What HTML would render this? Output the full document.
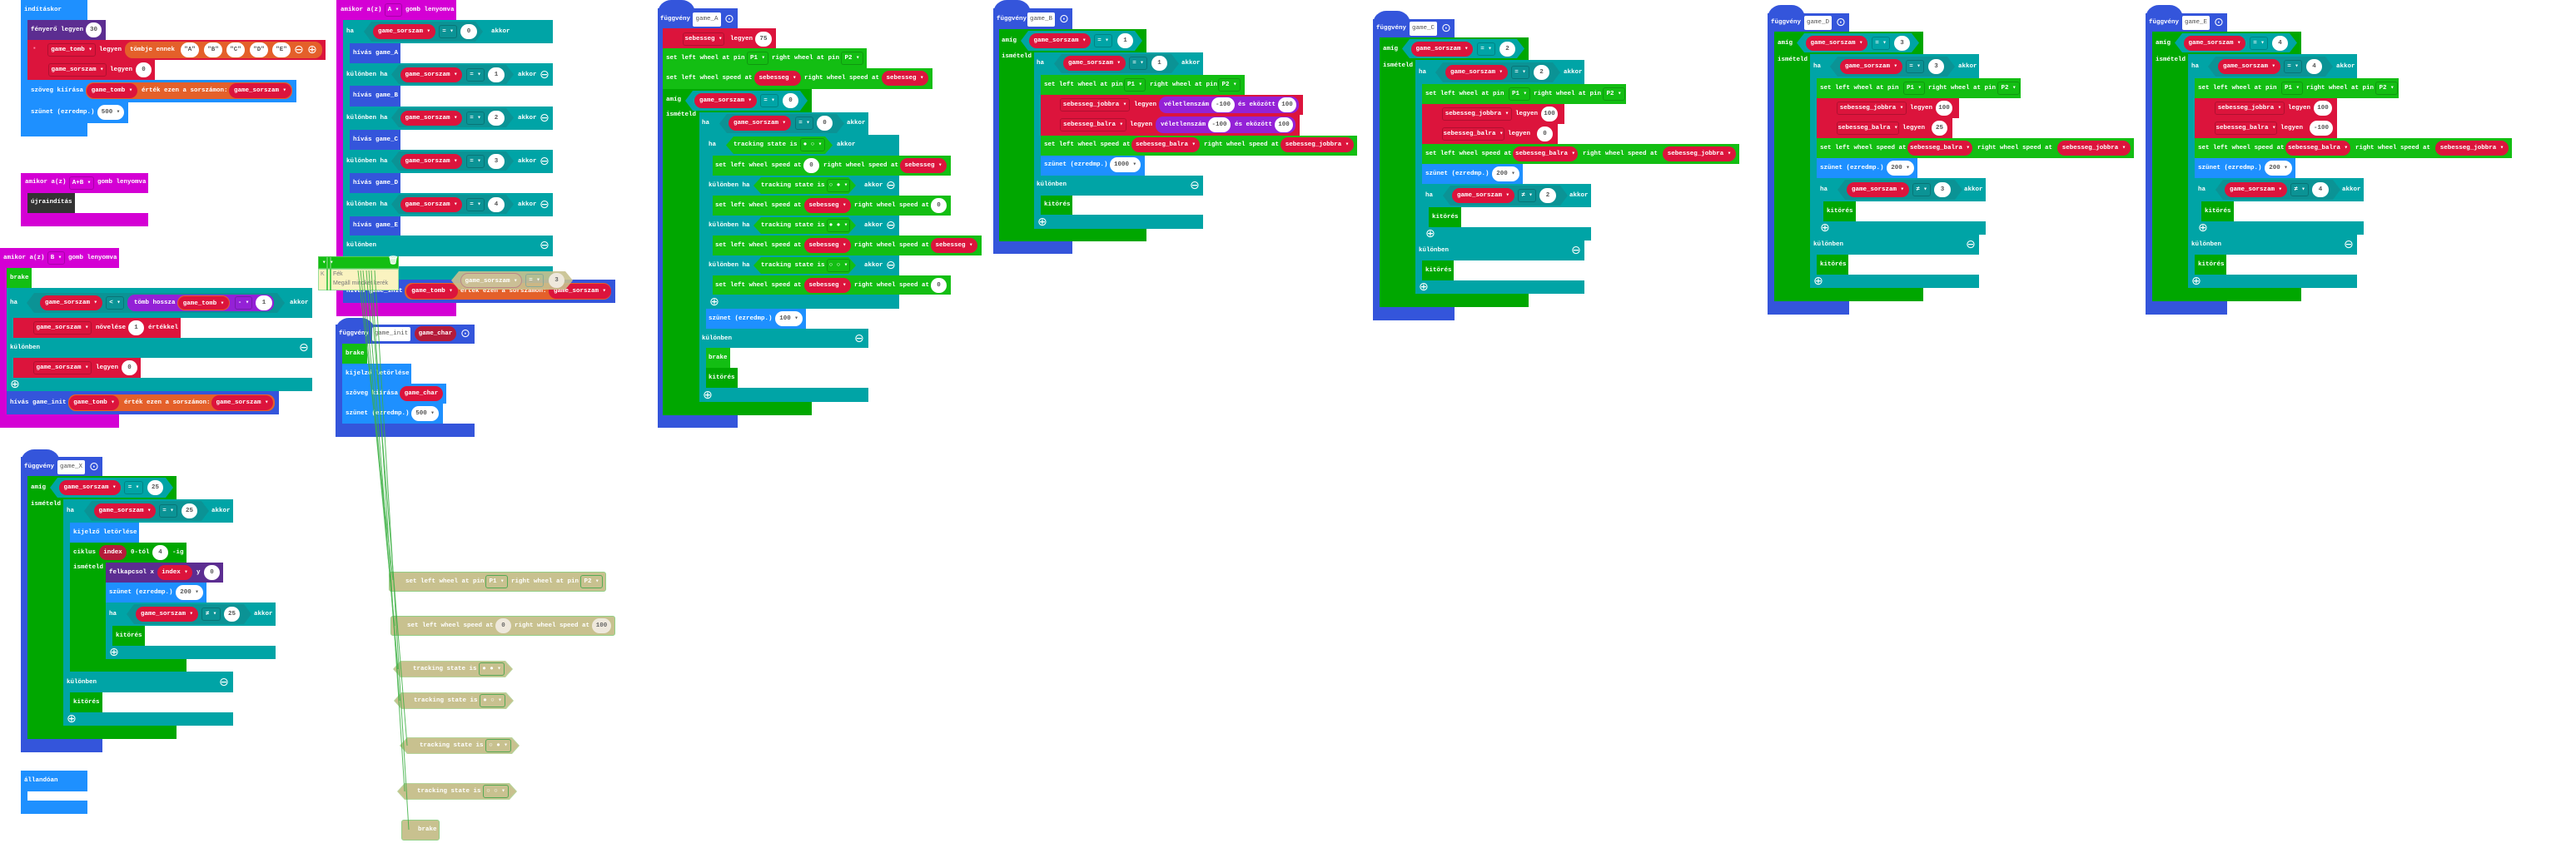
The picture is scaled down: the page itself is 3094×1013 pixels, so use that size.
<!DOCTYPE html>
<html><head><meta charset="utf-8"><style>
body{margin:0;width:3094px;height:1013px;background:#fff;position:relative;overflow:hidden}
i,b,div,svg{position:absolute;box-sizing:border-box;display:block}
i{font-style:normal}
.t{font:bold 7.5px/10px "Liberation Mono",monospace;color:#fff;white-space:pre}
.p{height:18px;border-radius:9px;font:bold 7.5px/18px "Liberation Mono",monospace;color:#fff;text-align:center;white-space:pre}
.d{height:16px;border:1px solid rgba(0,0,0,.2);border-radius:3px;font:bold 7.5px/14px "Liberation Mono",monospace;color:#fff;text-align:center;white-space:pre}
.c{font:14px/14px "DejaVu Sans",sans-serif;color:#fff}
.bx{height:17px;background:#fff;color:#555;font:7.5px/17px "Liberation Mono",monospace;text-align:center;border-radius:2px}
.h{height:24px;clip-path:polygon(9px 0,calc(100% - 9px) 0,100% 50%,calc(100% - 9px) 100%,9px 100%,0 50%)}
.hump{height:16px;border-radius:22px 22px 0 0}
.B{background:#1E90FF}.P{background:#5C2D91}.R{background:#DC143C}.O{background:#E4602A}
.T{background:#00A4A6}.M{background:#D400D4}.F{background:#3455DB}.G{background:#00A700}
.L{background:#13BE13}.V{background:#9421D6}.K{background:#333}.W{background:#fff;color:#555}
.DT{background:#0b9395}.DR{background:#B51B3A}
.gh{background:#C8C18F;border:1px solid #93cf86}
</style></head><body>

<!-- indításkor -->
<i class="B" style="left:25px;top:0;width:80px;height:164px"></i>
<b class="t" style="left:29px;top:7px">indításkor</b>
<i class="P" style="left:33px;top:24px;width:94px;height:24px"></i>
<b class="t" style="left:37px;top:31px">fényerő legyen</b>
<b class="p W" style="left:103px;top:27px;width:19px">30</b>
<i class="R" style="left:33px;top:48px;width:358px;height:24px"></i>
<b class="t" style="left:39px;top:54px;color:#f8a">▪</b>
<b class="d" style="left:57px;top:52px;width:58px">game_tomb ▾</b>
<b class="t" style="left:119px;top:55px">legyen</b>
<b class="p O" style="left:150px;top:50px;width:237px;height:20px"></b>
<b class="t" style="left:156px;top:55px">tömbje ennek</b>
<b class="p W" style="left:217px;top:51px;width:22px">"A"</b>
<b class="p W" style="left:245px;top:51px;width:22px">"B"</b>
<b class="p W" style="left:272px;top:51px;width:22px">"C"</b>
<b class="p W" style="left:300px;top:51px;width:22px">"D"</b>
<b class="p W" style="left:327px;top:51px;width:22px">"E"</b>
<b class="c" style="left:353px;top:53px">⊖</b><b class="c" style="left:369px;top:53px">⊕</b>
<i class="R" style="left:33px;top:72px;width:153px;height:24px"></i>
<b class="d" style="left:58px;top:76px;width:70px">game_sorszam ▾</b>
<b class="t" style="left:132px;top:79px">legyen</b>
<b class="p W" style="left:163px;top:75px;width:19px">0</b>
<i class="B" style="left:33px;top:96px;width:323px;height:27px"></i>
<b class="t" style="left:37px;top:104px">szöveg kiírása</b>
<b class="p O" style="left:103px;top:99px;width:248px;height:20px"></b>
<b class="p R" style="left:104px;top:100px;width:61px">game_tomb ▾</b>
<b class="t" style="left:170px;top:104px">érték ezen a sorszámon:</b>
<b class="p R" style="left:275px;top:100px;width:75px">game_sorszam ▾</b>
<i class="B" style="left:33px;top:123px;width:121px;height:25px"></i>
<b class="t" style="left:37px;top:130px">szünet (ezredmp.)</b>
<b class="p W" style="left:117px;top:126px;width:32px">500 ▾</b>

<!-- A+B -->
<i class="M" style="left:25px;top:208px;width:153px;height:24px"></i>
<b class="t" style="left:30px;top:214px">amikor a(z)</b>
<b class="d" style="left:83px;top:212px;width:30px">A+B ▾</b>
<b class="t" style="left:117px;top:214px">gomb lenyomva</b>
<i class="M" style="left:25px;top:232px;width:8px;height:40px"></i>
<i class="K" style="left:33px;top:232px;width:57px;height:24px"></i>
<b class="t" style="left:37px;top:238px">újraindítás</b>
<i class="M" style="left:25px;top:256px;width:153px;height:16px"></i>

<!-- amikor B -->
<i class="M" style="left:0;top:298px;width:143px;height:24px"></i>
<b class="t" style="left:4px;top:305px">amikor a(z)</b>
<b class="d" style="left:57px;top:302px;width:21px">B ▾</b>
<b class="t" style="left:82px;top:305px">gomb lenyomva</b>
<i class="M" style="left:0;top:322px;width:8px;height:192px"></i>
<i class="M" style="left:0;top:498px;width:143px;height:16px"></i>
<i class="L" style="left:8px;top:322px;width:30px;height:24px"></i>
<b class="t" style="left:12px;top:329px">brake</b>
<i class="T" style="left:8px;top:346px;width:367px;height:36px"></i>
<b class="t" style="left:12px;top:359px">ha</b>
<i class="h DT" style="left:32px;top:352px;width:310px"></i>
<b class="p R" style="left:48px;top:355px;width:75px">game_sorszam ▾</b>
<b class="d" style="left:127px;top:356px;width:22px">&lt; ▾</b>
<b class="p V" style="left:153px;top:354px;width:176px;height:20px"></b>
<b class="t" style="left:161px;top:359px">tömb hossza</b>
<b class="p R" style="left:213px;top:355px;width:63px;border:1px solid #E4602A">game_tomb ▾</b>
<b class="d" style="left:282px;top:356px;width:21px">- ▾</b>
<b class="p W" style="left:307px;top:355px;width:20px">1</b>
<b class="t" style="left:348px;top:359px">akkor</b>
<i class="T" style="left:8px;top:382px;width:8px;height:88px"></i>
<i class="R" style="left:16px;top:382px;width:201px;height:24px"></i>
<b class="d" style="left:40px;top:386px;width:70px">game_sorszam ▾</b>
<b class="t" style="left:115px;top:389px">növelése</b>
<b class="p W" style="left:154px;top:385px;width:19px">1</b>
<b class="t" style="left:178px;top:389px">értékkel</b>
<i class="T" style="left:8px;top:406px;width:367px;height:24px"></i>
<b class="t" style="left:12px;top:413px">különben</b>
<b class="c" style="left:359px;top:411px">⊖</b>
<i class="R" style="left:16px;top:430px;width:153px;height:24px"></i>
<b class="d" style="left:40px;top:434px;width:70px">game_sorszam ▾</b>
<b class="t" style="left:115px;top:437px">legyen</b>
<b class="p W" style="left:146px;top:433px;width:19px">0</b>
<i class="T" style="left:8px;top:454px;width:367px;height:16px"></i>
<b class="c" style="left:12px;top:455px">⊕</b>
<i class="F" style="left:8px;top:470px;width:327px;height:28px"></i>
<b class="t" style="left:12px;top:479px">hívás game_init</b>
<b class="p O" style="left:82px;top:474px;width:248px;height:20px"></b>
<b class="p R" style="left:83px;top:475px;width:60px">game_tomb ▾</b>
<b class="t" style="left:149px;top:479px">érték ezen a sorszámon:</b>
<b class="p R" style="left:254px;top:475px;width:74px">game_sorszam ▾</b>

<!-- amikor A -->
<i class="M" style="left:404px;top:0;width:144px;height:24px"></i>
<b class="t" style="left:409px;top:7px">amikor a(z)</b>
<b class="d" style="left:462px;top:4px;width:21px">A ▾</b>
<b class="t" style="left:487px;top:7px">gomb lenyomva</b>
<i class="M" style="left:404px;top:24px;width:8px;height:356px"></i>
<i class="M" style="left:404px;top:364px;width:144px;height:16px"></i>
<i class="T" style="left:412px;top:24px;width:8px;height:312px"></i>
<i class="T" style="left:412px;top:24px;width:252px;height:28px"></i>
<b class="t" style="left:416px;top:33px">ha</b>
<i class="h DT" style="left:437px;top:26px;width:143px"></i>
<b class="p R" style="left:448px;top:29px;width:75px">game_sorszam ▾</b>
<b class="d" style="left:527px;top:30px;width:22px">= ▾</b>
<b class="p W" style="left:553px;top:29px;width:20px">0</b>
<b class="t" style="left:590px;top:33px">akkor</b>
<i class="F" style="left:420px;top:52px;width:61px;height:24px"></i><b class="t" style="left:424px;top:59px">hívás game_A</b>

<i class="T" style="left:412px;top:76px;width:252px;height:27px"></i>
<b class="t" style="left:416px;top:85px">különben ha</b>
<i class="h DT" style="left:470px;top:78px;width:147px;height:23px"></i>
<b class="p R" style="left:481px;top:81px;width:74px">game_sorszam ▾</b>
<b class="d" style="left:560px;top:82px;width:22px">= ▾</b>
<b class="p W" style="left:586px;top:81px;width:20px">1</b>
<b class="t" style="left:622px;top:85px">akkor</b><b class="c" style="left:648px;top:83px">⊖</b>
<i class="F" style="left:420px;top:103px;width:61px;height:25px"></i><b class="t" style="left:424px;top:110px">hívás game_B</b>

<i class="T" style="left:412px;top:128px;width:252px;height:28px"></i>
<b class="t" style="left:416px;top:137px">különben ha</b>
<i class="h DT" style="left:470px;top:130px;width:147px;height:23px"></i>
<b class="p R" style="left:481px;top:133px;width:74px">game_sorszam ▾</b>
<b class="d" style="left:560px;top:134px;width:22px">= ▾</b>
<b class="p W" style="left:586px;top:133px;width:20px">2</b>
<b class="t" style="left:622px;top:137px">akkor</b><b class="c" style="left:648px;top:135px">⊖</b>
<i class="F" style="left:420px;top:156px;width:61px;height:24px"></i><b class="t" style="left:424px;top:163px">hívás game_C</b>

<i class="T" style="left:412px;top:180px;width:252px;height:28px"></i>
<b class="t" style="left:416px;top:189px">különben ha</b>
<i class="h DT" style="left:470px;top:182px;width:147px;height:23px"></i>
<b class="p R" style="left:481px;top:185px;width:74px">game_sorszam ▾</b>
<b class="d" style="left:560px;top:186px;width:22px">= ▾</b>
<b class="p W" style="left:586px;top:185px;width:20px">3</b>
<b class="t" style="left:622px;top:189px">akkor</b><b class="c" style="left:648px;top:187px">⊖</b>
<i class="F" style="left:420px;top:208px;width:61px;height:24px"></i><b class="t" style="left:424px;top:215px">hívás game_D</b>

<i class="T" style="left:412px;top:232px;width:252px;height:28px"></i>
<b class="t" style="left:416px;top:241px">különben ha</b>
<i class="h DT" style="left:470px;top:234px;width:147px;height:23px"></i>
<b class="p R" style="left:481px;top:237px;width:74px">game_sorszam ▾</b>
<b class="d" style="left:560px;top:238px;width:22px">= ▾</b>
<b class="p W" style="left:586px;top:237px;width:20px">4</b>
<b class="t" style="left:622px;top:241px">akkor</b><b class="c" style="left:648px;top:239px">⊖</b>
<i class="F" style="left:420px;top:260px;width:61px;height:23px"></i><b class="t" style="left:424px;top:266px">hívás game_E</b>

<i class="T" style="left:412px;top:283px;width:252px;height:25px"></i>
<b class="t" style="left:416px;top:290px">különben</b><b class="c" style="left:648px;top:288px">⊖</b>
<i class="T" style="left:412px;top:320px;width:252px;height:16px"></i>
<i class="F" style="left:412px;top:336px;width:327px;height:28px"></i>
<b class="t" style="left:416px;top:345px">hívás game_init</b>
<b class="p O" style="left:486px;top:340px;width:248px;height:20px"></b>
<b class="p R" style="left:488px;top:341px;width:62px">game_tomb ▾</b>
<b class="t" style="left:553px;top:345px">érték ezen a sorszámon:</b>
<b class="p R" style="left:659px;top:341px;width:75px">game_sorszam ▾</b>
<!-- ghost hex -->
<i class="h" style="left:542px;top:326px;width:146px;height:22px;background:rgba(200,193,143,.9)"></i>
<b class="p" style="left:553px;top:328px;width:74px;background:#cbbf95;border:1px solid #b88">game_sorszam ▾</b>
<b class="d" style="left:631px;top:329px;width:22px;border-color:#8a9">= ▾</b>
<b class="p" style="left:659px;top:328px;width:19px;background:#eee8dc;color:#666">3</b>
<!-- tooltip -->
<i style="left:382px;top:308px;width:97px;height:15px;background:#13BE13;border:1px solid #5c5"></i>
<i style="left:382px;top:323px;width:97px;height:26px;background:#FAF3C0;border:1px solid #9d9"></i>
<i style="left:392px;top:308px;width:2px;height:41px;background:#5c5"></i>
<i style="left:396px;top:308px;width:2px;height:41px;background:#5c5"></i>
<b class="t" style="left:387px;top:311px">▾ ▾</b>
<b class="t" style="left:466px;top:310px;font-size:10px">🗑</b>
<b style="left:385px;top:326px;font:7px/8px 'Liberation Sans',sans-serif;color:#888">K</b>
<b style="left:400px;top:326px;font:7px/8px 'Liberation Sans',sans-serif;color:#777">Fék</b>
<b style="left:400px;top:337px;font:7px/8px 'Liberation Sans',sans-serif;color:#777;white-space:pre">Megáll mindkét kerék</b>

<!-- game_init -->
<i class="F hump" style="left:403px;top:382px;width:47px"></i>
<i class="F" style="left:403px;top:390px;width:167px;height:23px"></i>
<b class="t" style="left:407px;top:396px">függvény</b>
<b class="bx" style="left:447px;top:393px;width:46px">game_init</b>
<b class="p DR" style="left:498px;top:392px;width:50px">game_char</b>
<b class="c" style="left:553px;top:394px">⊙</b>
<i class="F" style="left:403px;top:413px;width:8px;height:112px"></i>
<i class="F" style="left:403px;top:509px;width:167px;height:16px"></i>
<i class="L" style="left:411px;top:413px;width:30px;height:24px"></i><b class="t" style="left:415px;top:420px">brake</b>
<i class="B" style="left:411px;top:437px;width:83px;height:24px"></i><b class="t" style="left:415px;top:444px">kijelző letörlése</b>
<i class="B" style="left:411px;top:461px;width:125px;height:24px"></i><b class="t" style="left:415px;top:468px">szöveg kiírása</b>
<b class="p R" style="left:480px;top:464px;width:52px">game_char</b>
<i class="B" style="left:411px;top:485px;width:121px;height:24px"></i><b class="t" style="left:415px;top:492px">szünet (ezredmp.)</b>
<b class="p W" style="left:494px;top:488px;width:33px">500 ▾</b>

<!-- ghosts -->
<i class="gh" style="left:467px;top:687px;width:261px;height:24px;border-radius:3px"></i>
<b class="t" style="left:487px;top:694px">set left wheel at pin</b>
<b class="d" style="left:583px;top:691px;width:27px;border-color:#5a5">P1 ▾</b>
<b class="t" style="left:614px;top:694px">right wheel at pin</b>
<b class="d" style="left:697px;top:691px;width:27px;border-color:#5a5">P2 ▾</b>
<i class="gh" style="left:469px;top:740px;width:270px;height:24px;border-radius:3px"></i>
<b class="t" style="left:489px;top:747px">set left wheel speed at</b>
<b class="p" style="left:595px;top:743px;width:19px;background:#eee8dc;color:#666">0</b>
<b class="t" style="left:618px;top:747px">right wheel speed at</b>
<b class="p" style="left:711px;top:743px;width:23px;background:#eee8dc;color:#666">100</b>
<i class="h" style="left:472px;top:794px;width:144px;height:20px;background:#b7d49a"></i><i class="h" style="left:473px;top:795px;width:142px;height:18px;background:#C8C18F"></i>
<b class="t" style="left:496px;top:799px">tracking state is</b><b class="d" style="left:575px;top:796px;width:31px;border-color:#5a5">● ● ▾</b>
<i class="h" style="left:473px;top:832px;width:144px;height:20px;background:#b7d49a"></i><i class="h" style="left:474px;top:833px;width:142px;height:18px;background:#C8C18F"></i>
<b class="t" style="left:497px;top:837px">tracking state is</b><b class="d" style="left:576px;top:834px;width:31px;border-color:#5a5">● ○ ▾</b>
<i class="h" style="left:480px;top:886px;width:144px;height:20px;background:#b7d49a"></i><i class="h" style="left:481px;top:887px;width:142px;height:18px;background:#C8C18F"></i>
<b class="t" style="left:504px;top:891px">tracking state is</b><b class="d" style="left:583px;top:888px;width:31px;border-color:#5a5">○ ● ▾</b>
<i class="h" style="left:477px;top:941px;width:144px;height:20px;background:#b7d49a"></i><i class="h" style="left:478px;top:942px;width:142px;height:18px;background:#C8C18F"></i>
<b class="t" style="left:501px;top:946px">tracking state is</b><b class="d" style="left:580px;top:943px;width:31px;border-color:#5a5">○ ○ ▾</b>
<i class="gh" style="left:482px;top:985px;width:46px;height:25px;border-radius:3px"></i>
<b class="t" style="left:502px;top:992px">brake</b>

<svg style="left:0;top:0;z-index:5" width="3094" height="1013"><g stroke="#3cb043" stroke-width="1" opacity=".85">
<line x1="430" y1="325" x2="472" y2="697"/><line x1="433" y1="325" x2="474" y2="752"/>
<line x1="436" y1="325" x2="478" y2="804"/><line x1="440" y1="325" x2="480" y2="842"/>
<line x1="443" y1="325" x2="489" y2="896"/><line x1="446" y1="325" x2="486" y2="951"/>
<line x1="450" y1="325" x2="491" y2="997"/></g></svg>

<!-- game_A -->
<i class="F hump" style="left:790px;top:0;width:45px"></i>
<i class="F" style="left:790px;top:10px;width:96px;height:24px"></i>
<b class="t" style="left:793px;top:18px">függvény</b>
<b class="bx" style="left:832px;top:15px;width:34px">game_A</b>
<b class="c" style="left:870px;top:16px">⊙</b>
<i class="F" style="left:790px;top:34px;width:6px;height:480px"></i>
<i class="F" style="left:790px;top:499px;width:96px;height:15px"></i>
<i class="R" style="left:796px;top:34px;width:136px;height:24px"></i>
<b class="d" style="left:820px;top:39px;width:50px">sebesseg ▾</b>
<b class="t" style="left:877px;top:42px">legyen</b>
<b class="p W" style="left:907px;top:38px;width:20px">75</b>
<i class="L" style="left:796px;top:58px;width:245px;height:24px"></i>
<b class="t" style="left:800px;top:65px">set left wheel at pin</b>
<b class="d" style="left:897px;top:62px;width:26px">P1 ▾</b>
<b class="t" style="left:927px;top:65px">right wheel at pin</b>
<b class="d" style="left:1010px;top:62px;width:27px">P2 ▾</b>
<i class="L" style="left:796px;top:82px;width:324px;height:25px"></i>
<b class="t" style="left:800px;top:89px">set left wheel speed at</b>
<b class="p R" style="left:906px;top:85px;width:56px">sebesseg ▾</b>
<b class="t" style="left:966px;top:89px">right wheel speed at</b>
<b class="p R" style="left:1059px;top:85px;width:56px">sebesseg ▾</b>
<i class="G" style="left:796px;top:107px;width:179px;height:28px"></i>
<b class="t" style="left:800px;top:115px">amíg</b>
<i class="h T" style="left:823px;top:109px;width:147px"></i>
<b class="p R" style="left:834px;top:112px;width:75px">game_sorszam ▾</b>
<b class="d" style="left:913px;top:113px;width:22px">= ▾</b>
<b class="p W" style="left:940px;top:112px;width:19px">0</b>
<i class="G" style="left:796px;top:135px;width:44px;height:364px"></i>
<i class="G" style="left:796px;top:483px;width:179px;height:16px"></i>
<b class="t" style="left:800px;top:133px">ismételd</b>
<i class="T" style="left:840px;top:135px;width:203px;height:27px"></i>
<b class="t" style="left:843px;top:143px">ha</b>
<i class="h DT" style="left:864px;top:137px;width:150px;height:23px"></i>
<b class="p R" style="left:875px;top:139px;width:75px">game_sorszam ▾</b>
<b class="d" style="left:955px;top:140px;width:22px">= ▾</b>
<b class="p W" style="left:981px;top:139px;width:19px">0</b>
<b class="t" style="left:1017px;top:143px">akkor</b>
<i class="T" style="left:840px;top:162px;width:8px;height:321px"></i>
<i class="T" style="left:848px;top:162px;width:232px;height:25px"></i>
<b class="t" style="left:851px;top:169px">ha</b>
<i class="h L" style="left:872px;top:164px;width:128px;height:21px"></i>
<b class="t" style="left:881px;top:169px">tracking state is</b>
<b class="d" style="left:961px;top:166px;width:30px">● ○ ▾</b>
<b class="t" style="left:1005px;top:169px">akkor</b>
<i class="T" style="left:848px;top:187px;width:8px;height:184px"></i>
<i class="L" style="left:856px;top:187px;width:286px;height:24px"></i>
<b class="t" style="left:859px;top:194px">set left wheel speed at</b>
<b class="p W" style="left:965px;top:190px;width:19px">0</b>
<b class="t" style="left:989px;top:194px">right wheel speed at</b>
<b class="p R" style="left:1081px;top:190px;width:56px">sebesseg ▾</b>
<i class="T" style="left:848px;top:211px;width:232px;height:24px"></i>
<b class="t" style="left:851px;top:218px">különben ha</b>
<i class="h L" style="left:905px;top:213px;width:123px;height:20px"></i>
<b class="t" style="left:914px;top:218px">tracking state is</b>
<b class="d" style="left:993px;top:215px;width:28px">○ ● ▾</b>
<b class="t" style="left:1038px;top:218px">akkor</b><b class="c" style="left:1064px;top:216px">⊖</b>
<i class="L" style="left:856px;top:235px;width:286px;height:24px"></i>
<b class="t" style="left:859px;top:242px">set left wheel speed at</b>
<b class="p R" style="left:966px;top:238px;width:56px">sebesseg ▾</b>
<b class="t" style="left:1026px;top:242px">right wheel speed at</b>
<b class="p W" style="left:1118px;top:238px;width:19px">0</b>
<i class="T" style="left:848px;top:259px;width:232px;height:24px"></i>
<b class="t" style="left:851px;top:266px">különben ha</b>
<i class="h L" style="left:905px;top:261px;width:123px;height:20px"></i>
<b class="t" style="left:914px;top:266px">tracking state is</b>
<b class="d" style="left:993px;top:263px;width:28px">● ● ▾</b>
<b class="t" style="left:1038px;top:266px">akkor</b><b class="c" style="left:1064px;top:264px">⊖</b>
<i class="L" style="left:856px;top:283px;width:323px;height:24px"></i>
<b class="t" style="left:859px;top:290px">set left wheel speed at</b>
<b class="p R" style="left:966px;top:286px;width:56px">sebesseg ▾</b>
<b class="t" style="left:1026px;top:290px">right wheel speed at</b>
<b class="p R" style="left:1118px;top:286px;width:56px">sebesseg ▾</b>
<i class="T" style="left:848px;top:307px;width:232px;height:24px"></i>
<b class="t" style="left:851px;top:314px">különben ha</b>
<i class="h L" style="left:905px;top:309px;width:123px;height:20px"></i>
<b class="t" style="left:914px;top:314px">tracking state is</b>
<b class="d" style="left:993px;top:311px;width:28px">○ ○ ▾</b>
<b class="t" style="left:1038px;top:314px">akkor</b><b class="c" style="left:1064px;top:312px">⊖</b>
<i class="L" style="left:856px;top:331px;width:286px;height:23px"></i>
<b class="t" style="left:859px;top:338px">set left wheel speed at</b>
<b class="p R" style="left:966px;top:334px;width:56px">sebesseg ▾</b>
<b class="t" style="left:1026px;top:338px">right wheel speed at</b>
<b class="p W" style="left:1118px;top:334px;width:19px">0</b>
<i class="T" style="left:848px;top:354px;width:232px;height:17px"></i>
<b class="c" style="left:852px;top:356px">⊕</b>
<i class="B" style="left:848px;top:371px;width:120px;height:24px"></i>
<b class="t" style="left:851px;top:378px">szünet (ezredmp.)</b>
<b class="p W" style="left:931px;top:374px;width:33px">100 ▾</b>
<i class="T" style="left:840px;top:395px;width:203px;height:23px"></i>
<b class="t" style="left:843px;top:402px">különben</b><b class="c" style="left:1026px;top:400px">⊖</b>
<i class="L" style="left:848px;top:418px;width:29px;height:24px"></i><b class="t" style="left:851px;top:425px">brake</b>
<i class="G" style="left:848px;top:442px;width:38px;height:24px"></i><b class="t" style="left:851px;top:449px">kitörés</b>
<i class="T" style="left:840px;top:466px;width:203px;height:17px"></i>
<b class="c" style="left:844px;top:468px">⊕</b>

<!-- game_B -->
<i class="F hump" style="left:1193px;top:0;width:45px"></i>
<i class="F" style="left:1193px;top:10px;width:95px;height:25px"></i>
<b class="t" style="left:1197px;top:18px">függvény</b>
<b class="bx" style="left:1234px;top:15px;width:33px">game_B</b>
<b class="c" style="left:1272px;top:16px">⊙</b>
<i class="F" style="left:1193px;top:35px;width:7px;height:270px"></i>
<i class="F" style="left:1193px;top:290px;width:95px;height:15px"></i>
<i class="G" style="left:1200px;top:35px;width:177px;height:28px"></i>
<b class="t" style="left:1203px;top:44px">amíg</b>
<i class="h T" style="left:1226px;top:37px;width:146px"></i>
<b class="p R" style="left:1236px;top:40px;width:74px">game_sorszam ▾</b>
<b class="d" style="left:1314px;top:41px;width:22px">= ▾</b>
<b class="p W" style="left:1342px;top:40px;width:19px">1</b>
<i class="G" style="left:1200px;top:63px;width:42px;height:227px"></i>
<i class="G" style="left:1200px;top:275px;width:177px;height:15px"></i>
<b class="t" style="left:1203px;top:63px">ismételd</b>
<i class="T" style="left:1242px;top:63px;width:203px;height:27px"></i>
<b class="t" style="left:1245px;top:71px">ha</b>
<i class="h DT" style="left:1266px;top:65px;width:150px;height:23px"></i>
<b class="p R" style="left:1277px;top:67px;width:75px">game_sorszam ▾</b>
<b class="d" style="left:1356px;top:68px;width:22px">= ▾</b>
<b class="p W" style="left:1383px;top:67px;width:19px">1</b>
<b class="t" style="left:1419px;top:71px">akkor</b>
<i class="T" style="left:1242px;top:90px;width:8px;height:185px"></i>
<i class="L" style="left:1250px;top:90px;width:245px;height:24px"></i>
<b class="t" style="left:1254px;top:97px">set left wheel at pin</b>
<b class="d" style="left:1350px;top:94px;width:26px">P1 ▾</b>
<b class="t" style="left:1381px;top:97px">right wheel at pin</b>
<b class="d" style="left:1463px;top:94px;width:27px">P2 ▾</b>
<i class="R" style="left:1250px;top:114px;width:315px;height:24px"></i>
<b class="d" style="left:1273px;top:118px;width:84px">sebesseg_jobbra ▾</b>
<b class="t" style="left:1362px;top:121px">legyen</b>
<b class="p V" style="left:1392px;top:116px;width:168px;height:20px"></b>
<b class="t" style="left:1398px;top:121px">véletlenszám</b>
<b class="p W" style="left:1455px;top:117px;width:28px">-100</b>
<b class="t" style="left:1487px;top:121px">és eközött</b>
<b class="p W" style="left:1535px;top:117px;width:22px">100</b>
<i class="R" style="left:1250px;top:138px;width:311px;height:25px"></i>
<b class="d" style="left:1273px;top:142px;width:80px">sebesseg_balra ▾</b>
<b class="t" style="left:1357px;top:145px">legyen</b>
<b class="p V" style="left:1388px;top:140px;width:168px;height:20px"></b>
<b class="t" style="left:1394px;top:145px">véletlenszám</b>
<b class="p W" style="left:1451px;top:141px;width:27px">-100</b>
<b class="t" style="left:1483px;top:145px">és eközött</b>
<b class="p W" style="left:1531px;top:141px;width:22px">100</b>
<i class="L" style="left:1250px;top:163px;width:380px;height:24px"></i>
<b class="t" style="left:1254px;top:169px">set left wheel speed at</b>
<b class="p R" style="left:1359px;top:165px;width:82px">sebesseg_balra ▾</b>
<b class="t" style="left:1446px;top:169px">right wheel speed at</b>
<b class="p R" style="left:1538px;top:165px;width:88px">sebesseg_jobbra ▾</b>
<i class="B" style="left:1250px;top:187px;width:125px;height:24px"></i>
<b class="t" style="left:1254px;top:193px">szünet (ezredmp.)</b>
<b class="p W" style="left:1333px;top:189px;width:37px">1000 ▾</b>
<i class="T" style="left:1242px;top:211px;width:203px;height:24px"></i>
<b class="t" style="left:1245px;top:217px">különben</b><b class="c" style="left:1429px;top:216px">⊖</b>
<i class="G" style="left:1250px;top:235px;width:38px;height:23px"></i><b class="t" style="left:1254px;top:241px">kitörés</b>
<i class="T" style="left:1242px;top:258px;width:203px;height:17px"></i>
<b class="c" style="left:1246px;top:260px">⊕</b>

<!-- game_C -->
<div style="left:1649px;top:13px">
<i class="F hump" style="left:0;top:0;width:45px"></i>
<i class="F" style="left:0;top:10px;width:98px;height:22px"></i>
<b class="t" style="left:4px;top:16px">függvény</b>
<b class="bx" style="left:44px;top:13px;width:33px">game_C</b>
<b class="c" style="left:82px;top:14px">⊙</b>
<i class="F" style="left:0;top:32px;width:8px;height:340px"></i>
<i class="F" style="left:0;top:356px;width:98px;height:16px"></i>
<i class="G" style="left:8px;top:32px;width:179px;height:27px"></i>
<b class="t" style="left:12px;top:41px">amíg</b>
<i class="h T" style="left:35px;top:34px;width:147px;height:23px"></i>
<b class="p R" style="left:46px;top:37px;width:74px">game_sorszam ▾</b>
<b class="d" style="left:125px;top:38px;width:22px">= ▾</b>
<b class="p W" style="left:152px;top:37px;width:19px">2</b>
<i class="G" style="left:8px;top:59px;width:43px;height:297px"></i>
<i class="G" style="left:8px;top:340px;width:179px;height:16px"></i>
<b class="t" style="left:12px;top:61px">ismételd</b>
<i class="T" style="left:51px;top:59px;width:203px;height:29px"></i>
<b class="t" style="left:55px;top:69px">ha</b>
<i class="h DT" style="left:75px;top:62px;width:150px"></i>
<b class="p R" style="left:87px;top:65px;width:75px">game_sorszam ▾</b>
<b class="d" style="left:166px;top:66px;width:22px">= ▾</b>
<b class="p W" style="left:193px;top:65px;width:19px">2</b>
<b class="t" style="left:229px;top:69px">akkor</b>
<i class="T" style="left:51px;top:88px;width:8px;height:252px"></i>
<i class="L" style="left:59px;top:88px;width:245px;height:24px"></i>
<b class="t" style="left:63px;top:95px">set left wheel at pin</b>
<b class="d" style="left:163px;top:92px;width:26px">P1 ▾</b>
<b class="t" style="left:193px;top:95px">right wheel at pin</b>
<b class="d" style="left:276px;top:92px;width:27px">P2 ▾</b>
<i class="R" style="left:59px;top:112px;width:171px;height:24px"></i>
<b class="d" style="left:83px;top:116px;width:84px">sebesseg_jobbra ▾</b>
<b class="t" style="left:171px;top:119px">legyen</b>
<b class="p W" style="left:202px;top:115px;width:20px">100</b>
<i class="R" style="left:59px;top:136px;width:163px;height:24px"></i>
<b class="d" style="left:83px;top:140px;width:75px">sebesseg_balra ▾</b>
<b class="t" style="left:162px;top:143px">legyen</b>
<b class="p W" style="left:197px;top:139px;width:19px">0</b>
<i class="L" style="left:59px;top:160px;width:381px;height:24px"></i>
<b class="t" style="left:63px;top:167px">set left wheel speed at</b>
<b class="p R" style="left:168px;top:163px;width:78px">sebesseg_balra ▾</b>
<b class="t" style="left:252px;top:167px">right wheel speed at</b>
<b class="p R" style="left:348px;top:163px;width:88px">sebesseg_jobbra ▾</b>
<i class="B" style="left:59px;top:184px;width:121px;height:24px"></i>
<b class="t" style="left:63px;top:191px">szünet (ezredmp.)</b>
<b class="p W" style="left:143px;top:187px;width:33px">200 ▾</b>
<i class="T" style="left:59px;top:208px;width:203px;height:28px"></i>
<b class="t" style="left:63px;top:217px">ha</b>
<i class="h DT" style="left:84px;top:210px;width:150px"></i>
<b class="p R" style="left:95px;top:213px;width:75px">game_sorszam ▾</b>
<b class="d" style="left:174px;top:214px;width:22px">≠ ▾</b>
<b class="p W" style="left:200px;top:213px;width:20px">2</b>
<b class="t" style="left:236px;top:217px">akkor</b>
<i class="T" style="left:59px;top:236px;width:8px;height:40px"></i>
<i class="G" style="left:67px;top:236px;width:39px;height:24px"></i><b class="t" style="left:71px;top:243px">kitörés</b>
<i class="T" style="left:59px;top:260px;width:203px;height:16px"></i><b class="c" style="left:63px;top:261px">⊕</b>
<i class="T" style="left:51px;top:276px;width:203px;height:24px"></i>
<b class="t" style="left:55px;top:283px">különben</b><b class="c" style="left:238px;top:281px">⊖</b>
<i class="G" style="left:59px;top:300px;width:38px;height:24px"></i><b class="t" style="left:63px;top:307px">kitörés</b>
<i class="T" style="left:51px;top:324px;width:203px;height:16px"></i><b class="c" style="left:55px;top:325px">⊕</b>
</div>

<!-- game_D -->
<div style="left:2123px;top:6px">
<i class="F hump" style="left:0;top:0;width:45px"></i>
<i class="F" style="left:0;top:10px;width:98px;height:22px"></i>
<b class="t" style="left:4px;top:16px">függvény</b>
<b class="bx" style="left:44px;top:13px;width:33px">game_D</b>
<b class="c" style="left:82px;top:14px">⊙</b>
<i class="F" style="left:0;top:32px;width:8px;height:340px"></i>
<i class="F" style="left:0;top:356px;width:98px;height:16px"></i>
<i class="G" style="left:8px;top:32px;width:179px;height:27px"></i>
<b class="t" style="left:12px;top:41px">amíg</b>
<i class="h T" style="left:35px;top:34px;width:147px;height:23px"></i>
<b class="p R" style="left:46px;top:37px;width:74px">game_sorszam ▾</b>
<b class="d" style="left:125px;top:38px;width:22px">= ▾</b>
<b class="p W" style="left:152px;top:37px;width:19px">3</b>
<i class="G" style="left:8px;top:59px;width:43px;height:297px"></i>
<i class="G" style="left:8px;top:340px;width:179px;height:16px"></i>
<b class="t" style="left:12px;top:61px">ismételd</b>
<i class="T" style="left:51px;top:59px;width:203px;height:29px"></i>
<b class="t" style="left:55px;top:69px">ha</b>
<i class="h DT" style="left:75px;top:62px;width:150px"></i>
<b class="p R" style="left:87px;top:65px;width:75px">game_sorszam ▾</b>
<b class="d" style="left:166px;top:66px;width:22px">= ▾</b>
<b class="p W" style="left:193px;top:65px;width:19px">3</b>
<b class="t" style="left:229px;top:69px">akkor</b>
<i class="T" style="left:51px;top:88px;width:8px;height:252px"></i>
<i class="L" style="left:59px;top:88px;width:245px;height:24px"></i>
<b class="t" style="left:63px;top:95px">set left wheel at pin</b>
<b class="d" style="left:163px;top:92px;width:26px">P1 ▾</b>
<b class="t" style="left:193px;top:95px">right wheel at pin</b>
<b class="d" style="left:276px;top:92px;width:27px">P2 ▾</b>
<i class="R" style="left:59px;top:112px;width:171px;height:24px"></i>
<b class="d" style="left:83px;top:116px;width:84px">sebesseg_jobbra ▾</b>
<b class="t" style="left:171px;top:119px">legyen</b>
<b class="p W" style="left:202px;top:115px;width:20px">100</b>
<i class="R" style="left:59px;top:136px;width:163px;height:24px"></i>
<b class="d" style="left:83px;top:140px;width:75px">sebesseg_balra ▾</b>
<b class="t" style="left:162px;top:143px">legyen</b>
<b class="p W" style="left:197px;top:139px;width:19px">25</b>
<i class="L" style="left:59px;top:160px;width:381px;height:24px"></i>
<b class="t" style="left:63px;top:167px">set left wheel speed at</b>
<b class="p R" style="left:168px;top:163px;width:78px">sebesseg_balra ▾</b>
<b class="t" style="left:252px;top:167px">right wheel speed at</b>
<b class="p R" style="left:348px;top:163px;width:88px">sebesseg_jobbra ▾</b>
<i class="B" style="left:59px;top:184px;width:121px;height:24px"></i>
<b class="t" style="left:63px;top:191px">szünet (ezredmp.)</b>
<b class="p W" style="left:143px;top:187px;width:33px">200 ▾</b>
<i class="T" style="left:59px;top:208px;width:203px;height:28px"></i>
<b class="t" style="left:63px;top:217px">ha</b>
<i class="h DT" style="left:84px;top:210px;width:150px"></i>
<b class="p R" style="left:95px;top:213px;width:75px">game_sorszam ▾</b>
<b class="d" style="left:174px;top:214px;width:22px">≠ ▾</b>
<b class="p W" style="left:200px;top:213px;width:20px">3</b>
<b class="t" style="left:236px;top:217px">akkor</b>
<i class="T" style="left:59px;top:236px;width:8px;height:40px"></i>
<i class="G" style="left:67px;top:236px;width:39px;height:24px"></i><b class="t" style="left:71px;top:243px">kitörés</b>
<i class="T" style="left:59px;top:260px;width:203px;height:16px"></i><b class="c" style="left:63px;top:261px">⊕</b>
<i class="T" style="left:51px;top:276px;width:203px;height:24px"></i>
<b class="t" style="left:55px;top:283px">különben</b><b class="c" style="left:238px;top:281px">⊖</b>
<i class="G" style="left:59px;top:300px;width:38px;height:24px"></i><b class="t" style="left:63px;top:307px">kitörés</b>
<i class="T" style="left:51px;top:324px;width:203px;height:16px"></i><b class="c" style="left:55px;top:325px">⊕</b>
</div>

<!-- game_E -->
<div style="left:2577px;top:6px">
<i class="F hump" style="left:0;top:0;width:45px"></i>
<i class="F" style="left:0;top:10px;width:98px;height:22px"></i>
<b class="t" style="left:4px;top:16px">függvény</b>
<b class="bx" style="left:44px;top:13px;width:33px">game_E</b>
<b class="c" style="left:82px;top:14px">⊙</b>
<i class="F" style="left:0;top:32px;width:8px;height:340px"></i>
<i class="F" style="left:0;top:356px;width:98px;height:16px"></i>
<i class="G" style="left:8px;top:32px;width:179px;height:27px"></i>
<b class="t" style="left:12px;top:41px">amíg</b>
<i class="h T" style="left:35px;top:34px;width:147px;height:23px"></i>
<b class="p R" style="left:46px;top:37px;width:74px">game_sorszam ▾</b>
<b class="d" style="left:125px;top:38px;width:22px">= ▾</b>
<b class="p W" style="left:152px;top:37px;width:19px">4</b>
<i class="G" style="left:8px;top:59px;width:43px;height:297px"></i>
<i class="G" style="left:8px;top:340px;width:179px;height:16px"></i>
<b class="t" style="left:12px;top:61px">ismételd</b>
<i class="T" style="left:51px;top:59px;width:203px;height:29px"></i>
<b class="t" style="left:55px;top:69px">ha</b>
<i class="h DT" style="left:75px;top:62px;width:150px"></i>
<b class="p R" style="left:87px;top:65px;width:75px">game_sorszam ▾</b>
<b class="d" style="left:166px;top:66px;width:22px">= ▾</b>
<b class="p W" style="left:193px;top:65px;width:19px">4</b>
<b class="t" style="left:229px;top:69px">akkor</b>
<i class="T" style="left:51px;top:88px;width:8px;height:252px"></i>
<i class="L" style="left:59px;top:88px;width:245px;height:24px"></i>
<b class="t" style="left:63px;top:95px">set left wheel at pin</b>
<b class="d" style="left:163px;top:92px;width:26px">P1 ▾</b>
<b class="t" style="left:193px;top:95px">right wheel at pin</b>
<b class="d" style="left:276px;top:92px;width:27px">P2 ▾</b>
<i class="R" style="left:59px;top:112px;width:171px;height:24px"></i>
<b class="d" style="left:83px;top:116px;width:84px">sebesseg_jobbra ▾</b>
<b class="t" style="left:171px;top:119px">legyen</b>
<b class="p W" style="left:202px;top:115px;width:22px">100</b>
<i class="R" style="left:59px;top:136px;width:171px;height:24px"></i>
<b class="d" style="left:83px;top:140px;width:75px">sebesseg_balra ▾</b>
<b class="t" style="left:162px;top:143px">legyen</b>
<b class="p W" style="left:197px;top:139px;width:28px">-100</b>
<i class="L" style="left:59px;top:160px;width:381px;height:24px"></i>
<b class="t" style="left:63px;top:167px">set left wheel speed at</b>
<b class="p R" style="left:168px;top:163px;width:78px">sebesseg_balra ▾</b>
<b class="t" style="left:252px;top:167px">right wheel speed at</b>
<b class="p R" style="left:348px;top:163px;width:88px">sebesseg_jobbra ▾</b>
<i class="B" style="left:59px;top:184px;width:121px;height:24px"></i>
<b class="t" style="left:63px;top:191px">szünet (ezredmp.)</b>
<b class="p W" style="left:143px;top:187px;width:33px">200 ▾</b>
<i class="T" style="left:59px;top:208px;width:203px;height:28px"></i>
<b class="t" style="left:63px;top:217px">ha</b>
<i class="h DT" style="left:84px;top:210px;width:150px"></i>
<b class="p R" style="left:95px;top:213px;width:75px">game_sorszam ▾</b>
<b class="d" style="left:174px;top:214px;width:22px">≠ ▾</b>
<b class="p W" style="left:200px;top:213px;width:20px">4</b>
<b class="t" style="left:236px;top:217px">akkor</b>
<i class="T" style="left:59px;top:236px;width:8px;height:40px"></i>
<i class="G" style="left:67px;top:236px;width:39px;height:24px"></i><b class="t" style="left:71px;top:243px">kitörés</b>
<i class="T" style="left:59px;top:260px;width:203px;height:16px"></i><b class="c" style="left:63px;top:261px">⊕</b>
<i class="T" style="left:51px;top:276px;width:203px;height:24px"></i>
<b class="t" style="left:55px;top:283px">különben</b><b class="c" style="left:238px;top:281px">⊖</b>
<i class="G" style="left:59px;top:300px;width:38px;height:24px"></i><b class="t" style="left:63px;top:307px">kitörés</b>
<i class="T" style="left:51px;top:324px;width:203px;height:16px"></i><b class="c" style="left:55px;top:325px">⊕</b>
</div>

<!-- game_X -->
<i class="F hump" style="left:25px;top:540px;width:47px"></i>
<i class="F" style="left:25px;top:549px;width:98px;height:23px"></i>
<b class="t" style="left:29px;top:556px">függvény</b>
<b class="bx" style="left:69px;top:553px;width:33px">game_X</b>
<b class="c" style="left:107px;top:554px">⊙</b>
<i class="F" style="left:25px;top:572px;width:8px;height:332px"></i>
<i class="F" style="left:25px;top:888px;width:98px;height:16px"></i>
<i class="G" style="left:33px;top:572px;width:179px;height:28px"></i>
<b class="t" style="left:37px;top:581px">amíg</b>
<i class="h T" style="left:60px;top:574px;width:148px"></i>
<b class="p R" style="left:71px;top:577px;width:74px">game_sorszam ▾</b>
<b class="d" style="left:149px;top:578px;width:23px">= ▾</b>
<b class="p W" style="left:177px;top:577px;width:19px">25</b>
<i class="G" style="left:33px;top:600px;width:43px;height:288px"></i>
<i class="G" style="left:33px;top:872px;width:179px;height:16px"></i>
<b class="t" style="left:37px;top:601px">ismételd</b>
<i class="T" style="left:76px;top:600px;width:204px;height:28px"></i>
<b class="t" style="left:80px;top:609px">ha</b>
<i class="h DT" style="left:101px;top:602px;width:150px"></i>
<b class="p R" style="left:113px;top:605px;width:74px">game_sorszam ▾</b>
<b class="d" style="left:191px;top:606px;width:22px">= ▾</b>
<b class="p W" style="left:218px;top:605px;width:19px">25</b>
<b class="t" style="left:254px;top:609px">akkor</b>
<i class="T" style="left:76px;top:628px;width:8px;height:244px"></i>
<i class="B" style="left:84px;top:628px;width:83px;height:24px"></i>
<b class="t" style="left:88px;top:635px">kijelző letörlése</b>
<i class="G" style="left:84px;top:652px;width:140px;height:24px"></i>
<b class="t" style="left:88px;top:659px">ciklus</b>
<b class="p DR" style="left:119px;top:655px;width:33px">index</b>
<b class="t" style="left:157px;top:659px">0-tól</b>
<b class="p W" style="left:183px;top:655px;width:19px">4</b>
<b class="t" style="left:207px;top:659px">-ig</b>
<i class="G" style="left:84px;top:676px;width:43px;height:131px"></i>
<i class="G" style="left:84px;top:792px;width:140px;height:15px"></i>
<b class="t" style="left:88px;top:677px">ismételd</b>
<i class="P" style="left:127px;top:676px;width:141px;height:24px"></i>
<b class="t" style="left:131px;top:683px">felkapcsol x</b>
<b class="p R" style="left:189px;top:679px;width:42px">index ▾</b>
<b class="t" style="left:236px;top:683px">y</b>
<b class="p W" style="left:245px;top:679px;width:19px">0</b>
<i class="B" style="left:127px;top:700px;width:121px;height:24px"></i>
<b class="t" style="left:131px;top:707px">szünet (ezredmp.)</b>
<b class="p W" style="left:211px;top:703px;width:33px">200 ▾</b>
<i class="T" style="left:127px;top:724px;width:204px;height:28px"></i>
<b class="t" style="left:131px;top:733px">ha</b>
<i class="h DT" style="left:152px;top:726px;width:150px"></i>
<b class="p R" style="left:163px;top:729px;width:75px">game_sorszam ▾</b>
<b class="d" style="left:242px;top:730px;width:23px">≠ ▾</b>
<b class="p W" style="left:269px;top:729px;width:19px">25</b>
<b class="t" style="left:305px;top:733px">akkor</b>
<i class="T" style="left:127px;top:752px;width:8px;height:40px"></i>
<i class="G" style="left:135px;top:752px;width:39px;height:24px"></i><b class="t" style="left:139px;top:759px">kitörés</b>
<i class="T" style="left:127px;top:776px;width:204px;height:16px"></i><b class="c" style="left:131px;top:777px">⊕</b>
<i class="T" style="left:76px;top:807px;width:204px;height:25px"></i>
<b class="t" style="left:80px;top:815px">különben</b><b class="c" style="left:263px;top:813px">⊖</b>
<i class="G" style="left:84px;top:832px;width:39px;height:24px"></i><b class="t" style="left:88px;top:839px">kitörés</b>
<i class="T" style="left:76px;top:856px;width:204px;height:16px"></i><b class="c" style="left:80px;top:857px">⊕</b>

<!-- állandóan -->
<i class="B" style="left:25px;top:926px;width:80px;height:25px"></i>
<b class="t" style="left:29px;top:933px">állandóan</b>
<i class="B" style="left:25px;top:951px;width:8px;height:27px"></i>
<i class="B" style="left:25px;top:962px;width:80px;height:16px"></i>

</body></html>
